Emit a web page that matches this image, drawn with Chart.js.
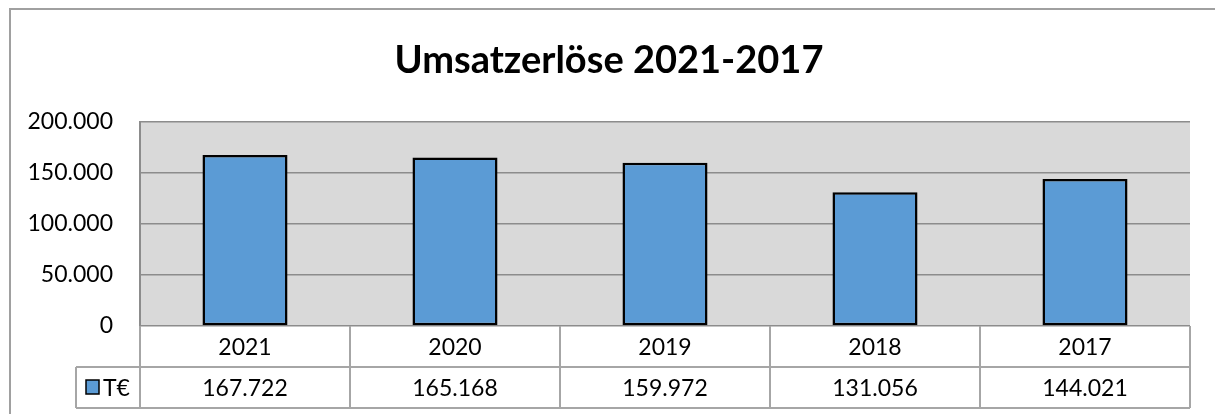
<!DOCTYPE html>
<html>
<head>
<meta charset="utf-8">
<script src="https://cdn.jsdelivr.net/npm/chart.js@4.4.0/dist/chart.umd.min.js"></script>
<style>
  html, body { margin: 0; padding: 0; background: #fff; }
  #wrap { width: 1215px; height: 414px; position: relative; }
</style>
</head>
<body>
<div id="wrap"><canvas id="umsatzChart"></canvas></div>
<script>
const titleText = 'Umsatzerlöse 2021-2017';
const years = ['2021', '2020', '2019', '2018', '2017'];
const umsatz = [167722, 165168, 159972, 131056, 144021];
const seriesName = 'T€';
const yTicks = [0, 50000, 100000, 150000, 200000];

const FONT = 'Lato, "Open Sans", sans-serif';
const BAR_BLUE = '#5B9BD5';
const GRID_GRAY = '#8c8c8c';
const TABLE_GRAY = '#a6a6a6';

// German thousands separator: 167722 -> 167.722
function fmt(v) {
  return String(v).replace(/\B(?=(\d{3})+(?!\d))/g, '.');
}

// gray plot background + outer chart frame + title
const backdrop = {
  id: 'backdrop',
  beforeDraw(chart) {
    const { ctx, chartArea: a } = chart;
    ctx.save();
    ctx.fillStyle = '#d9d9d9';
    ctx.fillRect(a.left, a.top, a.right - a.left, a.bottom - a.top);

    ctx.strokeStyle = '#a0a0a0';
    ctx.lineWidth = 2;
    ctx.beginPath();
    ctx.moveTo(10, chart.height);
    ctx.lineTo(10, 9);
    ctx.lineTo(chart.width, 9);
    ctx.stroke();

    ctx.fillStyle = '#000';
    ctx.font = 'bold 38px ' + FONT;
    ctx.textAlign = 'center';
    ctx.textBaseline = 'middle';
    ctx.fillText(titleText, 609, 61);
    ctx.restore();
  }
};

// data table under the plot, columns taken from the x scale
const dataTable = {
  id: 'dataTable',
  afterDraw(chart) {
    const { ctx, chartArea: a } = chart;
    const xs = chart.scales.x;
    const colW = (a.right - a.left) / years.length;
    const row1 = a.bottom, row2 = a.bottom + 41, row3 = a.bottom + 82;
    const legendLeft = 76;

    ctx.save();
    ctx.strokeStyle = TABLE_GRAY;
    ctx.lineWidth = 2;
    ctx.beginPath();
    ctx.moveTo(legendLeft, row2); ctx.lineTo(a.right, row2);
    ctx.moveTo(legendLeft, row3); ctx.lineTo(a.right, row3);
    ctx.moveTo(legendLeft, row2); ctx.lineTo(legendLeft, row3);
    for (let i = 0; i <= years.length; i++) {
      const x = a.left + i * colW;
      ctx.moveTo(x, row1); ctx.lineTo(x, row3);
    }
    ctx.stroke();

    ctx.fillStyle = '#000';
    ctx.font = '23px ' + FONT;
    ctx.textAlign = 'center';
    ctx.textBaseline = 'middle';
    years.forEach((y, i) => {
      const cx = xs.getPixelForValue(i);
      ctx.fillText(y, cx, (row1 + row2) / 2 + 1);
      ctx.fillText(fmt(umsatz[i]), cx, (row2 + row3) / 2 + 1);
    });

    // legend key
    ctx.fillStyle = BAR_BLUE;
    ctx.fillRect(86, 380, 13, 14);
    ctx.strokeStyle = '#000';
    ctx.lineWidth = 1.5;
    ctx.strokeRect(86, 380, 13, 14);
    ctx.fillStyle = '#000';
    ctx.textAlign = 'left';
    ctx.fillText(seriesName, 103, (row2 + row3) / 2 + 1);
    ctx.restore();
  }
};

const ctx = document.getElementById('umsatzChart').getContext('2d');
new Chart(ctx, {
  type: 'bar',
  data: {
    labels: years,
    datasets: [{
      label: seriesName,
      data: umsatz,
      backgroundColor: BAR_BLUE,
      borderColor: '#000',
      borderWidth: 2.5,
      borderSkipped: false,
      categoryPercentage: 1,
      barPercentage: 0.405
    }]
  },
  options: {
    responsive: true,
    maintainAspectRatio: false,
    animation: false,
    layout: { padding: { top: 122, right: 25, bottom: 88, left: 0 } },
    scales: {
      x: { display: false },
      y: {
        min: 0,
        max: 200000,
        afterBuildTicks: s => { s.ticks = yTicks.map(v => ({ value: v })); },
        afterFit: s => { s.width = 140; },
        border: { display: true, color: GRID_GRAY, width: 2 },
        grid: { color: GRID_GRAY, lineWidth: 1.5, drawTicks: false },
        ticks: {
          padding: 27,
          color: '#000',
          font: { family: FONT, size: 23 },
          callback: v => fmt(v)
        }
      }
    },
    plugins: {
      legend: { display: false },
      tooltip: { enabled: false }
    }
  },
  plugins: [backdrop, dataTable]
});
</script>
</body>
</html>
